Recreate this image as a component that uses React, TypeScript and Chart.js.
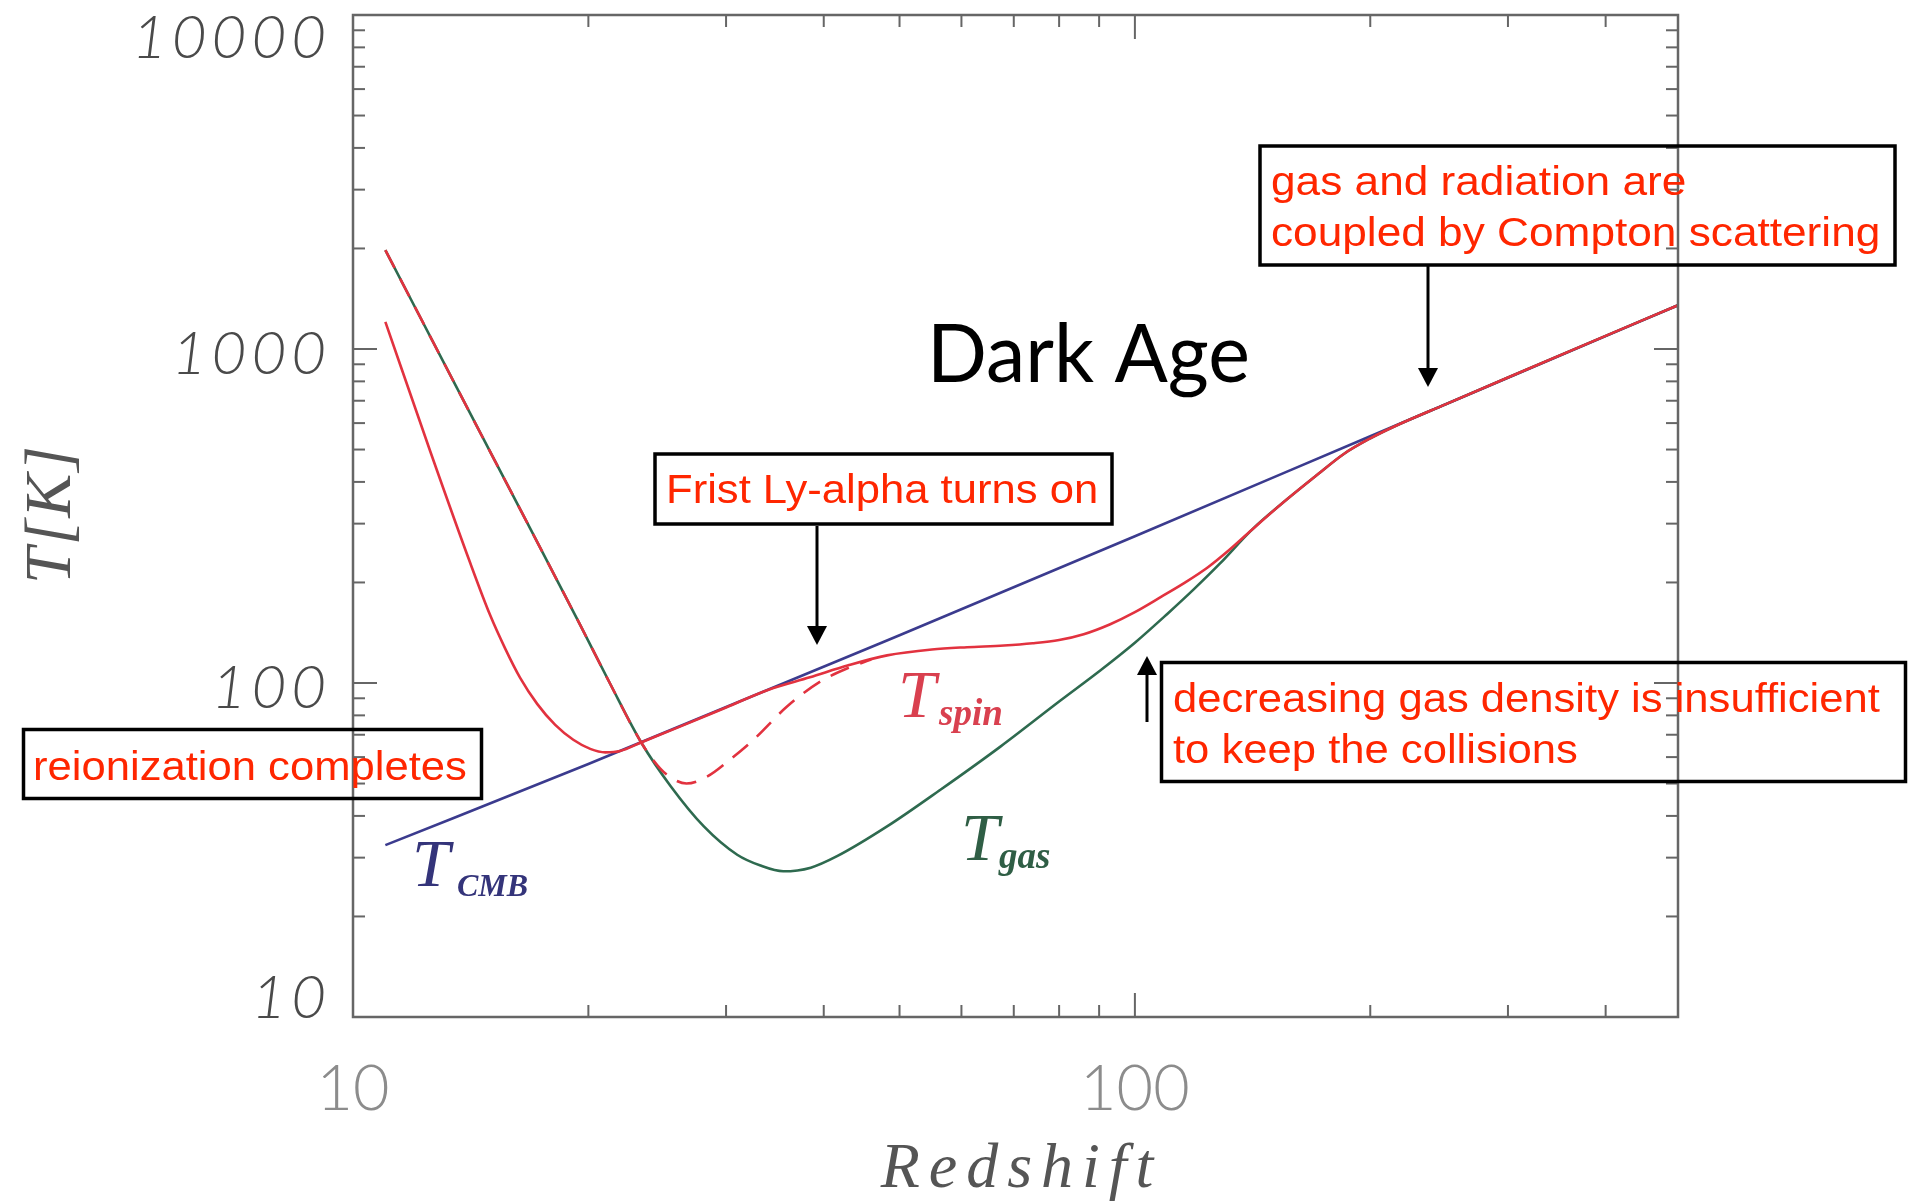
import React, { useEffect, useRef } from "react";
import { Chart, registerables } from "chart.js";

Chart.register(...registerables);

// Temperatures [K] against redshift z for each curve
const cmbZ = [11, 20, 50, 100, 200, 300, 495];
const cmbT = [32.7, 57.2, 139, 275, 548, 820, 1352];

const gasZ = [11, 13.7, 16.7, 19.5, 21.3, 23.4, 25.5, 28.1, 31, 33.2, 35.5, 38.5, 41.6, 48.2, 56.4, 67.3, 80, 90.3, 100, 110, 119, 128.5, 141, 155, 170, 185, 200, 215, 250, 300, 400, 495];
const gasT = [1977, 735, 302, 150, 100, 66, 49, 37.2, 30.6, 28.4, 27.3, 28.0, 30.3, 37.2, 47.9, 64.5, 88, 109, 132, 161, 191, 228, 287, 348, 415, 485, 540, 587, 684, 822, 1095, 1352];

const spinZ = [11, 12.55, 14.12, 14.97, 15.65, 16.36, 17.2, 18.14, 19.13, 20.11, 21.02, 21.96, 23.4, 26, 30, 34, 38.4, 43, 48.2, 55, 61, 68, 74, 80, 86, 93, 100, 108, 116, 124, 132, 141, 155, 170, 185, 200, 215, 250, 300, 400, 495];
const spinT = [1206, 495, 229, 160, 127, 103.6, 86.6, 74.9, 67.6, 63.5, 62.0, 62.6, 66.5, 73.5, 84.5, 95.5, 104, 113, 121, 126, 128, 129.5, 131.5, 134.5, 140, 150, 163, 181, 200, 222, 250, 287, 348, 415, 485, 540, 587, 684, 822, 1095, 1352];

// spin temperature without early reionization heating (dashed)
const lyaZ = [11, 13.7, 16.7, 19.5, 21.3, 23.4, 24.7, 25.7, 26.7, 28.4, 30.5, 32.5, 35.9, 39.6, 43, 46];
const lyaT = [1977, 735, 302, 150, 100, 66, 55.5, 51.5, 50, 52.5, 59.5, 67.5, 85, 101, 111, 117.5];

const xTickValues = [10, 100];
const xTickLabels = ["10", "100"];
const yTickValues = [10, 100, 1000, 10000];
const yTickLabels = ["10", "100", "1000", "10000"];

const X_MIN = 10;
const X_MAX = 495;
const Y_MIN = 10;
const Y_MAX = 10000;

const pts = (xs: number[], ys: number[]) => xs.map((x, i) => ({ x, y: ys[i] }));

const RED = "#e2323f";
const GREEN = "#2e6a4f";
const BLUE = "#3b3b8e";
const NOTE_RED = "#ff2600";
const AXIS = "#666666";

type Note = {
  lines: string[];
  rect: [number, number, number, number];
  textX: number;
  baselines: number[];
  stretch: number;
};

const notes: Note[] = [
  { lines: ["reionization completes"], rect: [23.5, 729.5, 458, 69], textX: 33, baselines: [780], stretch: 1.09 },
  { lines: ["Frist Ly-alpha turns on"], rect: [655, 454, 457, 70], textX: 666, baselines: [503], stretch: 1.09 },
  {
    lines: ["gas and radiation are", "coupled by Compton scattering"],
    rect: [1260, 146, 635, 119],
    textX: 1271,
    baselines: [195, 246],
    stretch: 1.105,
  },
  {
    lines: ["decreasing gas density is insufficient", "to keep the collisions"],
    rect: [1161.5, 662.5, 744, 119],
    textX: 1173,
    baselines: [712, 763],
    stretch: 1.09,
  },
];

// [x, from y, tip y]
const arrows: [number, number, number][] = [
  [817, 526, 645],
  [1428, 266, 387],
  [1147, 722, 656],
];

function spaced(ctx: CanvasRenderingContext2D, text: string, x: number, y: number, gap: number, align: "left" | "right" | "center") {
  const chars = [...text];
  const widths = chars.map((c) => ctx.measureText(c).width);
  const total = widths.reduce((s, w) => s + w, 0) + gap * (chars.length - 1);
  let cx = align === "right" ? x - total : align === "center" ? x - total / 2 : x;
  ctx.textAlign = "left";
  chars.forEach((c, i) => {
    ctx.fillText(c, cx, y);
    cx += widths[i] + gap;
  });
}

function subLabel(ctx: CanvasRenderingContext2D, main: string, sub: string, x: number, base: number, subX: number, subBase: number, subFont: string, color: string) {
  ctx.fillStyle = color;
  ctx.textAlign = "left";
  ctx.textBaseline = "alphabetic";
  ctx.font = 'italic 68px "Liberation Serif"';
  ctx.fillText(main, x, base);
  ctx.font = subFont;
  ctx.fillText(sub, subX, subBase);
}

const framePlugin = {
  id: "idlFrame",
  afterDatasetsDraw(chart: any) {
    const { ctx, chartArea: a, scales } = chart;
    const xs = scales.x;
    const ys = scales.y;
    ctx.save();

    // box frame
    ctx.strokeStyle = AXIS;
    ctx.lineWidth = 2.5;
    ctx.strokeRect(a.left, a.top, a.right - a.left, a.bottom - a.top);

    // inward ticks on all four sides
    ctx.lineWidth = 2;
    const line = (x1: number, y1: number, x2: number, y2: number) => {
      ctx.beginPath();
      ctx.moveTo(x1, y1);
      ctx.lineTo(x2, y2);
      ctx.stroke();
    };
    for (let d = 10; d <= 1000; d *= 10) {
      for (let m = 1; m <= 9; m++) {
        const v = d * m;
        if (v < X_MIN || v > X_MAX) continue;
        const px = xs.getPixelForValue(v);
        const len = m === 1 ? 24 : 12;
        line(px, a.bottom, px, a.bottom - len);
        line(px, a.top, px, a.top + len);
      }
    }
    for (let d = 10; d <= 10000; d *= 10) {
      for (let m = 1; m <= 9; m++) {
        const v = d * m;
        if (v < Y_MIN || v > Y_MAX) continue;
        const py = ys.getPixelForValue(v);
        const len = m === 1 ? 24 : 12;
        line(a.left, py, a.left + len, py);
        line(a.right, py, a.right - len, py);
      }
    }

    // y tick labels
    ctx.fillStyle = "#4a4a4a";
    ctx.font = 'italic 300 60px Lato';
    ctx.textBaseline = "alphabetic";
    yTickValues.forEach((v, i) => {
      const py = ys.getPixelForValue(v);
      const c = Math.min(Math.max(py + 3, a.top + 21), a.bottom - 21);
      spaced(ctx, yTickLabels[i], a.left - 27, c + 21.5, 5, "right");
    });

    // x tick labels
    ctx.fillStyle = "#8c8c8c";
    ctx.font = '300 63px Lato';
    xTickValues.forEach((v, i) => {
      const px = xs.getPixelForValue(v);
      spaced(ctx, xTickLabels[i], px, a.bottom + 93, 0, "center");
    });

    // axis titles
    ctx.fillStyle = "#555555";
    ctx.font = 'italic 64px "Liberation Serif"';
    spaced(ctx, "Redshift", 1017, 1187, 9, "center");

    ctx.save();
    ctx.translate(70, 515);
    ctx.rotate(-Math.PI / 2);
    ctx.font = 'italic 66px "Liberation Serif"';
    spaced(ctx, "T[K]", 0, 0, 2, "center");
    ctx.restore();

    // curve labels
    subLabel(ctx, "T", "CMB", 412, 886, 457, 896, 'bold italic 32px "Liberation Serif"', "#34347a");
    subLabel(ctx, "T", "spin", 898, 717, 939, 725, 'bold italic 37px "Liberation Serif"', "#d9404f");
    subLabel(ctx, "T", "gas", 961, 860, 999, 868, 'bold italic 37px "Liberation Serif"', "#2f5e45");

    // title text
    ctx.fillStyle = "#000000";
    ctx.font = '82px Lato';
    const dw = ctx.measureText("Dark Age").width;
    ctx.save();
    ctx.translate(927, 382);
    ctx.scale(323 / dw, 1);
    ctx.textAlign = "left";
    ctx.fillText("Dark Age", 0, 0);
    ctx.restore();

    // annotation boxes
    notes.forEach((n) => {
      ctx.strokeStyle = "#000000";
      ctx.lineWidth = 3.5;
      ctx.strokeRect(n.rect[0], n.rect[1], n.rect[2], n.rect[3]);
      ctx.fillStyle = NOTE_RED;
      ctx.font = '40px "Liberation Sans"';
      ctx.textAlign = "left";
      n.lines.forEach((t, i) => {
        ctx.save();
        ctx.translate(n.textX, n.baselines[i]);
        ctx.scale(n.stretch, 1);
        ctx.fillText(t, 0, 0);
        ctx.restore();
      });
    });

    // arrows
    ctx.strokeStyle = "#000000";
    ctx.fillStyle = "#000000";
    ctx.lineWidth = 3;
    arrows.forEach(([x, y0, y1]) => {
      const dir = Math.sign(y1 - y0);
      const headBase = y1 - dir * 19;
      line(x, y0, x, headBase);
      ctx.beginPath();
      ctx.moveTo(x, y1);
      ctx.lineTo(x - 10, headBase);
      ctx.lineTo(x + 10, headBase);
      ctx.closePath();
      ctx.fill();
    });

    ctx.restore();
  },
};

export default function App() {
  const canvasRef = useRef<HTMLCanvasElement | null>(null);

  useEffect(() => {
    const canvas = canvasRef.current;
    if (!canvas) return;
    const common = { pointRadius: 0, borderWidth: 2.6, fill: false, cubicInterpolationMode: "monotone" as const };
    const chart = new Chart(canvas, {
      type: "line",
      data: {
        datasets: [
          { label: "T_spin", data: pts(spinZ, spinT), borderColor: RED, ...common },
          { label: "T_spin (no early heating)", data: pts(lyaZ, lyaT), borderColor: RED, borderDash: [20, 12], ...common },
          { label: "T_gas", data: pts(gasZ, gasT), borderColor: GREEN, ...common },
          { label: "T_CMB", data: pts(cmbZ, cmbT), borderColor: BLUE, ...common },
        ],
      },
      options: {
        animation: false,
        responsive: false,
        devicePixelRatio: 1,
        layout: { padding: { left: 353, right: 237, top: 15, bottom: 185 } },
        plugins: { legend: { display: false }, tooltip: { enabled: false } },
        scales: {
          x: { type: "logarithmic", min: X_MIN, max: X_MAX, display: false },
          y: { type: "logarithmic", min: Y_MIN, max: Y_MAX, display: false },
        },
      },
      plugins: [framePlugin],
    });
    return () => chart.destroy();
  }, []);

  return (
    <div style={{ position: "fixed", left: 0, top: 0, width: 1915, height: 1202, background: "#ffffff" }}>
      <canvas ref={canvasRef} width={1915} height={1202} style={{ display: "block" }} />
    </div>
  );
}
